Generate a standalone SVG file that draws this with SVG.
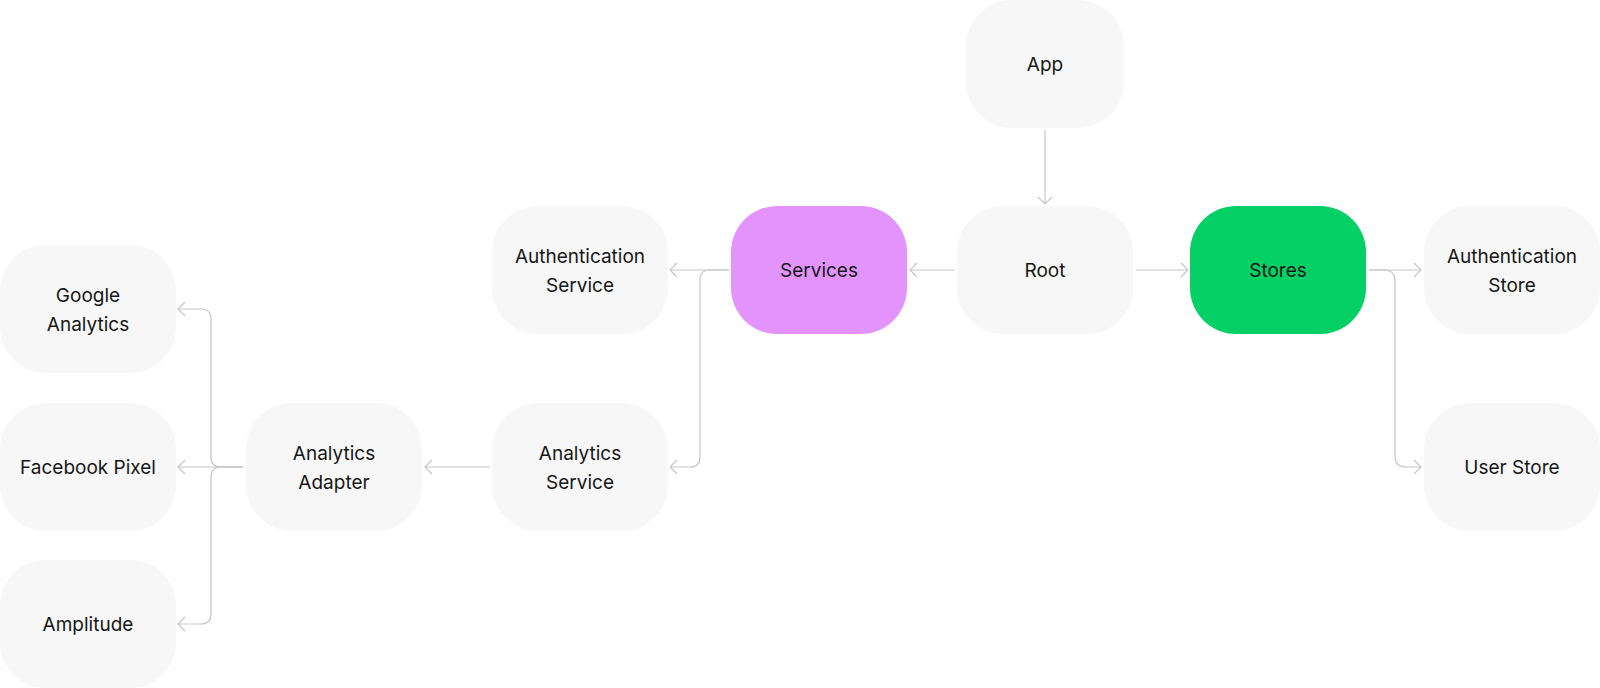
<svg xmlns="http://www.w3.org/2000/svg" width="1600" height="688" viewBox="0 0 1600 688">
  <style>
    .node rect { fill: #f7f7f7; }
    .node text { font-family: Inter, "Noto Sans", "Liberation Sans", sans-serif; font-size: 19px; fill: #161616; text-anchor: middle; }
    #services rect { fill: #e394fc; }
    #stores rect { fill: #04d065; }
    .edge { fill: none; stroke: #c6c6c6; stroke-width: 1.2; marker-end: url(#arrow); }
  </style>
  <defs>
    <marker id="arrow" markerUnits="userSpaceOnUse" markerWidth="16" markerHeight="16" viewBox="-9 -8 10 16" refX="0" refY="0" orient="auto">
      <path d="M-7,-7 L0,0 L-7,7" fill="none" stroke="#c6c6c6" stroke-width="1.2"/>
    </marker>
  </defs>
  <rect width="1600" height="688" fill="#ffffff"/>

  <g id="app" class="node">
    <rect x="966" y="0" width="158" height="128" rx="46"/>
    <text x="1045" y="71.3">App</text>
  </g>
  <g id="root" class="node">
    <rect x="957" y="206" width="176" height="128" rx="46"/>
    <text x="1045" y="277.3">Root</text>
  </g>
  <g id="services" class="node">
    <rect x="731" y="206" width="176" height="128" rx="46"/>
    <text x="819" y="277.3">Services</text>
  </g>
  <g id="stores" class="node">
    <rect x="1190" y="206" width="176" height="128" rx="46"/>
    <text x="1278" y="277.3">Stores</text>
  </g>
  <g id="authentication-service" class="node">
    <rect x="492" y="206" width="176" height="128" rx="46"/>
    <text x="580" y="262.8">Authentication</text>
    <text x="580" y="292.3">Service</text>
  </g>
  <g id="analytics-service" class="node">
    <rect x="492" y="403" width="176" height="128" rx="46"/>
    <text x="580" y="459.8">Analytics</text>
    <text x="580" y="489.3">Service</text>
  </g>
  <g id="analytics-adapter" class="node">
    <rect x="246" y="403" width="176" height="128" rx="46"/>
    <text x="334" y="459.8">Analytics</text>
    <text x="334" y="489.3">Adapter</text>
  </g>
  <g id="google-analytics" class="node">
    <rect x="0" y="245" width="176" height="128" rx="46"/>
    <text x="88" y="301.8">Google</text>
    <text x="88" y="331.3">Analytics</text>
  </g>
  <g id="facebook-pixel" class="node">
    <rect x="0" y="403" width="176" height="128" rx="46"/>
    <text x="88" y="474.3">Facebook Pixel</text>
  </g>
  <g id="amplitude" class="node">
    <rect x="0" y="560" width="176" height="128" rx="46"/>
    <text x="88" y="631.3">Amplitude</text>
  </g>
  <g id="authentication-store" class="node">
    <rect x="1424" y="206" width="176" height="128" rx="46"/>
    <text x="1512" y="262.8">Authentication</text>
    <text x="1512" y="292.3">Store</text>
  </g>
  <g id="user-store" class="node">
    <rect x="1424" y="403" width="176" height="128" rx="46"/>
    <text x="1512" y="474.3">User Store</text>
  </g>

  <g id="connectors">
    <path class="edge" d="M1045,130 V204"/>
    <path class="edge" d="M955,270 H910"/>
    <path class="edge" d="M729,270 H670"/>
    <path class="edge" d="M729,270 H710 Q700,270 700,280 V457 Q700,467 690,467 H670"/>
    <path class="edge" d="M490,467 H425"/>
    <path class="edge" d="M243,467 H221 Q211,467 211,457 V319 Q211,309 201,309 H178"/>
    <path class="edge" d="M243,467 H178"/>
    <path class="edge" d="M243,467 H221 Q211,467 211,477 V614 Q211,624 201,624 H178"/>
    <path class="edge" d="M1136,270 H1188"/>
    <path class="edge" d="M1369,270 H1421"/>
    <path class="edge" d="M1369,270 H1384 Q1395,270 1395,281 V456 Q1395,467 1406,467 H1421"/>
  </g>
</svg>
